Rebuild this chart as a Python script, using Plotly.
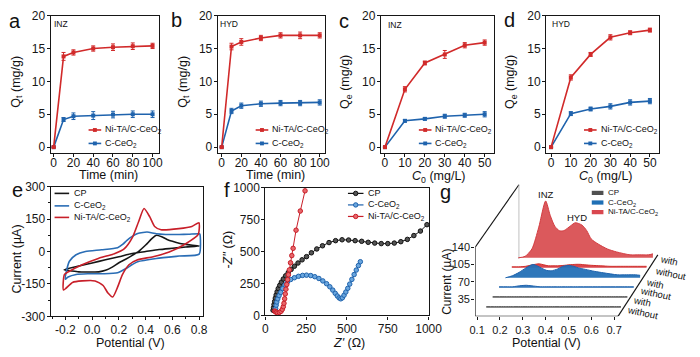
import plotly.graph_objects as go

W, H = 700, 357
FONT = "Liberation Sans, Arial, Helvetica, sans-serif"
RED = "#d12a2a"
BLUE = "#1f63ad"
BLACK = "#161616"


def fx(p):
    return p / W


def fy(p):
    return 1 - p / H


# ---------------- data: panels a-d ----------------
time_min = [0, 10, 20, 40, 60, 80, 100]
c0_mgL = [0, 10, 20, 30, 40, 50]
series_names = ["Ni-TA/C-CeO<sub>2</sub>", "C-CeO<sub>2</sub>"]

a_nita = [0, 13.8, 14.4, 15.0, 15.2, 15.35, 15.4]
a_nita_err = [0, 0.6, 0.4, 0.4, 0.5, 0.5, 0.4]
a_cceo2 = [0, 4.2, 4.7, 4.8, 4.95, 5.0, 5.0]
a_cceo2_err = [0, 0.3, 0.5, 0.6, 0.5, 0.5, 0.5]

b_nita = [0, 15.3, 16.0, 16.6, 17.0, 17.0, 17.0]
b_nita_err = [0, 0.5, 0.5, 0.4, 0.4, 0.5, 0.4]
b_cceo2 = [0, 5.5, 6.3, 6.6, 6.7, 6.7, 6.8]
b_cceo2_err = [0, 0.4, 0.4, 0.4, 0.4, 0.4, 0.4]

c_nita = [0, 8.8, 12.8, 14.1, 15.5, 15.9]
c_nita_err = [0, 0.4, 0.3, 0.6, 0.4, 0.4]
c_cceo2 = [0, 4.0, 4.3, 4.7, 4.85, 5.0]
c_cceo2_err = [0, 0.2, 0.2, 0.3, 0.3, 0.4]

d_nita = [0, 10.6, 14.1, 16.7, 17.4, 17.8]
d_nita_err = [0, 0.4, 0.3, 0.4, 0.3, 0.3]
d_cceo2 = [0, 5.1, 5.8, 6.2, 6.8, 7.0]
d_cceo2_err = [0, 0.3, 0.3, 0.4, 0.4, 0.4]

q_ticks = [0, 5, 10, 15, 20]
time_ticks = [0, 20, 40, 60, 80, 100]
c0_ticks = [0, 10, 20, 30, 40, 50]

# ---------------- data: panel e (CV loops) ----------------
e_cp_pot = [-0.21, -0.15, -0.10, -0.05, 0.00, 0.05, 0.10, 0.15, 0.20, 0.25, 0.30, 0.35,
            0.40, 0.45, 0.48, 0.52, 0.56, 0.60, 0.65, 0.70, 0.75, 0.80,
            0.70, 0.60, 0.50, 0.40, 0.30, 0.20, 0.10, 0.00, -0.10, -0.21]
e_cp_cur = [-84, -90, -94, -95, -95, -94, -87, -72, -52, -36, -18, 2,
            30, 62, 75, 68, 56, 47, 38, 33, 29, 26,
            21, 15, 9, 0, -9, -24, -38, -53, -67, -84]

e_cc_pot = [-0.20, -0.19, -0.17, -0.12, -0.05, 0.07, 0.19, 0.23, 0.26, 0.30, 0.34, 0.38,
            0.41, 0.45, 0.48, 0.55, 0.65, 0.72, 0.80, 0.805,
            0.80, 0.65, 0.48, 0.34, 0.30, 0.26, 0.19, 0.09, -0.03, -0.12, -0.18, -0.20]
e_cc_cur = [-128, -85, -45, -15, 0, 8, 18, 34, 52, 70, 83, 88,
            90, 86, 82, 79, 79, 80, 82, 80,
            -12, -21, -32, -47, -60, -76, -98, -103, -103, -106, -118, -128]

e_ni_pot = [-0.214, -0.207, -0.17, -0.075, 0.046, 0.166, 0.239, 0.30, 0.347, 0.388, 0.431, 0.467,
            0.515, 0.648, 0.745, 0.798,
            0.793, 0.697, 0.576, 0.456, 0.335, 0.275, 0.227, 0.19, 0.154, 0.118, 0.082, 0.022,
            -0.075, -0.147, -0.214]
e_ni_cur = [-178, -106, -91, -61, -32, -10, 12, 64, 138, 199, 160, 116,
            101, 106, 116, 133,
            79, 35, -2, -24, -39, -61, -106, -165, -210, -192, -157, -136,
            -136, -143, -178]

e_x_ticks = [-0.2, 0.0, 0.2, 0.4, 0.6, 0.8]
e_x_text = ["-0.2", "0.0", "0.2", "0.4", "0.6", "0.8"]
e_y_ticks = [-300, -150, 0, 150, 300]
e_y_text = ["-300", "-150", "0", "150", "300"]

# ---------------- data: panel f (Nyquist) ----------------
f_cp_re = [47, 50, 53, 57, 61, 66, 72, 79, 88, 98, 110, 124, 140, 158, 178, 200, 225, 252,
           282, 315, 350, 390, 430, 470, 510, 550, 590, 630, 670, 710, 750, 790, 830, 870,
           910, 950, 990]
f_cp_im = [40, 60, 85, 110, 135, 160, 185, 210, 235, 260, 285, 310, 335, 360, 385, 410, 435, 460,
           490, 520, 545, 570, 585, 592, 590, 585, 580, 572, 566, 562, 562, 566, 577, 595,
           625, 660, 710]

f_cc_re = [60, 63, 66, 70, 76, 84, 94, 106, 120, 135, 155, 178, 203, 228, 252, 278, 303, 328,
           352, 375, 395, 413, 428, 441, 452, 462, 472, 482, 493, 505, 517, 530, 544, 557,
           570, 582]
f_cc_im = [35, 55, 80, 105, 130, 155, 180, 210, 238, 262, 281, 295, 306, 313, 315, 312, 303, 289,
           270, 248, 224, 198, 173, 152, 137, 130, 138, 158, 183, 212, 245, 282, 320, 355,
           390, 420]

f_ni_re = [57, 62, 68, 76, 86, 96, 104, 110, 114, 118, 122, 126, 131, 136, 141, 147, 154, 162,
           170, 188, 214, 243]
f_ni_im = [34, 28, 24, 20, 24, 32, 48, 68, 95, 130, 168, 205, 242, 280, 318, 356, 412, 468,
           525, 667, 817, 975]

f_ticks = [0, 250, 500, 750, 1000]

# ---------------- data: panel g (stacked DPV) ----------------
g_pot = [0.14, 0.17, 0.20, 0.23, 0.26, 0.28, 0.30, 0.32, 0.34, 0.37, 0.39, 0.42, 0.44, 0.46,
         0.49, 0.53, 0.57, 0.63, 0.67, 0.71, 0.73]
g_cp_without = [2, 2, 2, 2, 2, 2, 2, 2, 2, 2, 2, 2, 2, 2, 2, 2, 2, 2, 2, 2, 2]
g_cp_with = [2, 2, 2, 2, 2, 2, 2, 2, 2, 2, 2, 2, 2, 2, 2, 2, 2, 2, 2, 2, 2]
g_cc_without = [2, 2, 2, 4, 5, 4, 3, 2, 2, 2, 2, 2, 2, 2, 2, 2, 2, 2, 2, 2, 2]
g_cc_with = [0, 4, 11, 20, 27, 24, 19, 15, 14, 18, 23, 25, 23, 20, 17, 13, 10, 6, 6, 6, 5]
g_ni_without = [2, 2, 3, 6, 8, 6, 4, 4, 4, 5, 6, 7, 7, 6, 5, 4, 3, 3, 3, 3, 3]
g_ni_with = [0, 3, 18, 62, 115, 86, 64, 55, 55, 65, 71, 66, 55, 38, 28, 18, 12, 6, 6, 6, 8]
g_layer_names = ["without", "with", "without", "with", "without", "with"]
g_x_ticks = [0.1, 0.2, 0.3, 0.4, 0.5, 0.6, 0.7]
g_x_text = ["0.1", "0.2", "0.3", "0.4", "0.5", "0.6", "0.7"]
g_y_ticks = [35, 70, 105, 140]

# waterfall styling (pseudo-3D offsets)
G_DX = 0.028
G_DY = 20.2
G_B0 = 17.5

fig = go.Figure()
layout_axes = {}
shapes = []
annotations = []


def ids(i):
    return ("x" if i == 1 else f"x{i}"), ("y" if i == 1 else f"y{i}")


def add_axes(i, l, r, t, b, xr, yr, xtv, xtt, ytv, ytt, box=True, xminor=None, yminor=None, tfs=12,
             xstand=0, ystand=0):
    xid, yid = ids(i)
    xname = "xaxis" if i == 1 else f"xaxis{i}"
    yname = "yaxis" if i == 1 else f"yaxis{i}"
    common = dict(showgrid=False, zeroline=False, ticks="outside", ticklen=3, tickwidth=1.1,
                  tickcolor=BLACK, linecolor=BLACK, linewidth=1.2, showline=box, mirror=box,
                  tickfont=dict(size=tfs, family=FONT, color=BLACK), tickmode="array")
    layout_axes[xname] = dict(common, domain=[fx(l), fx(r)], range=xr, anchor=yid,
                              tickvals=xtv, ticktext=xtt, ticklabelstandoff=xstand)
    layout_axes[yname] = dict(common, domain=[fy(b), fy(t)], range=yr, anchor=xid,
                              tickvals=ytv, ticktext=ytt, ticklabelstandoff=ystand)
    if xminor:
        layout_axes[xname]["minor"] = dict(ticks="outside", ticklen=2, tickwidth=1, tickcolor=BLACK,
                                           dtick=xminor, tick0=0)
    if yminor:
        layout_axes[yname]["minor"] = dict(ticks="outside", ticklen=2, tickwidth=1, tickcolor=BLACK,
                                           dtick=yminor, tick0=0)


def text(x, y, s, size=12, angle=0, xanchor="center", yanchor="middle", color="#111111"):
    annotations.append(dict(x=fx(x), y=fy(y), xref="paper", yref="paper", text=s, showarrow=False,
                            font=dict(size=size, family=FONT, color=color), textangle=angle,
                            xanchor=xanchor, yanchor=yanchor))


def pline(x0, y0, x1, y1, color, width=1.6):
    shapes.append(dict(type="line", xref="paper", yref="paper", x0=fx(x0), y0=fy(y0), x1=fx(x1),
                       y1=fy(y1), line=dict(color=color, width=width)))


def prect(x0, y0, x1, y1, color):
    shapes.append(dict(type="rect", xref="paper", yref="paper", x0=fx(x0), y0=fy(y0), x1=fx(x1),
                       y1=fy(y1), line=dict(width=0), fillcolor=color))


def pcircle(cx, cy, r, fill, edge):
    shapes.append(dict(type="circle", xref="paper", yref="paper", x0=fx(cx - r), y0=fy(cy + r),
                       x1=fx(cx + r), y1=fy(cy - r), line=dict(color=edge, width=1), fillcolor=fill))


# ---------------- panels a-d ----------------
kin_panels = [
    (1, 46, 158, [-3, 107], time_min, a_nita, a_nita_err, a_cceo2, a_cceo2_err, time_ticks),
    (2, 218, 328, [-4, 105], time_min, b_nita, b_nita_err, b_cceo2, b_cceo2_err, time_ticks),
    (3, 386, 502, [-2, 54.5], c0_mgL, c_nita, c_nita_err, c_cceo2, c_cceo2_err, c0_ticks),
    (4, 556, 672, [-2.5, 54.5], c0_mgL, d_nita, d_nita_err, d_cceo2, d_cceo2_err, c0_ticks),
]
for (i, l, r, xr, xs, yr_, er_, yb, eb, xt) in kin_panels:
    add_axes(i, l, r, 9, 152, xr, [-0.9, 20], xt, [str(v) for v in xt], q_ticks, [str(v) for v in q_ticks],
             xstand=-5, ystand=-1)
    xid, yid = ids(i)
    for ys, es, col in ((yb, eb, BLUE), (yr_, er_, RED)):
        fig.add_trace(go.Scatter(
            x=xs, y=ys, xaxis=xid, yaxis=yid, mode="lines+markers", showlegend=False,
            line=dict(color=col, width=1.6), marker=dict(symbol="square", size=4, color=col),
            error_y=dict(type="data", array=es, color=col, thickness=1, width=2), cliponaxis=False))
    # legend
    lx0 = l + 39
    for yy, col, name in ((128, RED, series_names[0]), (142, BLUE, series_names[1])):
        pline(lx0, yy, lx0 + 13, yy, col)
        prect(lx0 + 4.5, yy - 2, lx0 + 8.5, yy + 2, col)
        text(lx0 + 15, yy, name, size=9, xanchor="left")

text(11, 78, "Q<sub>t</sub> (mg/g)", 12.5, -90)
text(183, 78, "Q<sub>t</sub> (mg/g)", 12.5, -90)
text(350, 78, "Q<sub>e</sub> (mg/g)", 12.5, -90)
text(520, 78, "Q<sub>e</sub> (mg/g)", 12.5, -90)
text(106, 175, "Time (min)", 12.5)
text(277, 175, "Time (min)", 12.5)
text(446, 176.5, "<i>C</i><sub>0</sub> (mg/L)", 12.5)
text(618, 176.5, "<i>C</i><sub>0</sub> (mg/L)", 12.5)
text(57, 18, "INZ", 8.5)
text(230, 18, "HYD", 8.5)
text(400, 19, "INZ", 8.5)
text(571, 18, "HYD", 8.5)

# ---------------- panel e ----------------
add_axes(5, 46, 203, 187, 322, [-0.31, 0.83], [-300, 300], e_x_ticks, e_x_text, e_y_ticks, e_y_text,
         xminor=0.1, yminor=75, xstand=-1, ystand=-1)
for xs, ys, col in ((e_cp_pot, e_cp_cur, BLACK), (e_cc_pot, e_cc_cur, "#2a6db5"), (e_ni_pot, e_ni_cur, "#c81f29")):
    fig.add_trace(go.Scatter(x=xs, y=ys, xaxis="x5", yaxis="y5", mode="lines", showlegend=False,
                             line=dict(color=col, width=1.6, shape="spline", smoothing=0.6)))
for yy, col, name in ((194, BLACK, "CP"), (207, "#2a6db5", "C-CeO<sub>2</sub>"), (219, "#c81f29", "Ni-TA/C-CeO<sub>2</sub>")):
    pline(50, yy, 65, yy, col)
    text(68, yy, name, size=9, xanchor="left")
text(11, 262, "Current (µA)", 12.5, -90)
text(128, 350, "Potential (V)", 12.5)

# ---------------- panel f ----------------
add_axes(6, 267, 435, 188, 321, [0, 1000], [0, 1000], f_ticks, [str(v) for v in f_ticks],
         f_ticks, [str(v) for v in f_ticks], xstand=-1, ystand=-1)
f_styles = [(f_cp_re, f_cp_im, "#111111", "#555555"),
            (f_cc_re, f_cc_im, "#1f63ad", "#6aa6de"),
            (f_ni_re, f_ni_im, "#c81f29", "#e8676b")]
for xs, ys, edge, fill in f_styles:
    fig.add_trace(go.Scatter(x=xs, y=ys, xaxis="x6", yaxis="y6", mode="lines+markers", showlegend=False,
                             line=dict(color=edge, width=1),
                             marker=dict(symbol="circle", size=4.5, color=fill, line=dict(color=edge, width=1)),
                             cliponaxis=False))
for yy, (edge, fill), name in ((194, ("#111111", "#555555"), "CP"), (206, ("#1f63ad", "#6aa6de"), "C-CeO<sub>2</sub>"),
                               (218, ("#c81f29", "#e8676b"), "Ni-TA/C-CeO<sub>2</sub>")):
    pline(352, yy, 368, yy, edge, 1.2)
    pcircle(360, yy, 2.3, fill, edge)
    text(371, yy, name, size=9, xanchor="left")
text(229, 252, "-<i>Z''</i> (Ω)", 12.5, -90)
text(353, 350, "<i>Z'</i> (Ω)", 12.5)

# ---------------- panel g ----------------
g_yr = [0, (322 - 183) * 140 / 72]
g_xr = [0.1 - 2 / 235, 0.1 + (700 - 485) / 235]
add_axes(7, 483, 700, 183, 322, g_xr, g_yr, g_x_ticks, g_x_text, g_y_ticks, [str(v) for v in g_y_ticks],
         box=False, tfs=11, xstand=0, ystand=-1)

g_layers = [
    (g_cp_without, "rgba(110,110,110,0.9)", "#444444"),
    (g_cp_with, "rgba(110,110,110,0.9)", "#444444"),
    (g_cc_without, "rgba(40,110,180,0.95)", "#1f63ad"),
    (g_cc_with, "rgba(35,112,182,0.95)", "#1f63ad"),
    (g_ni_without, "rgba(215,60,66,0.95)", "#d0312d"),
    (g_ni_with, "rgba(216,76,80,0.93)", "#d23c40"),
]
for k in reversed(range(6)):
    cur, fillc, linec = g_layers[k]
    xs = [p + k * G_DX for p in g_pot]
    base = G_B0 + k * G_DY
    fig.add_trace(go.Scatter(x=xs, y=[base for _ in xs], xaxis="x7", yaxis="y7", mode="lines",
                             line=dict(width=0, color=linec), showlegend=False, hoverinfo="skip"))
    fig.add_trace(go.Scatter(x=xs, y=[c + base for c in cur], xaxis="x7", yaxis="y7", mode="lines",
                             line=dict(width=1, color=linec, shape="spline", smoothing=0.7),
                             fill="tonexty", fillcolor=fillc, showlegend=False))


def gx(p):
    return (p - 485) / 235 + 0.1


def gy(p):
    return (322 - p) * 140 / 72


def gline(x0, y0, x1, y1, color=BLACK, width=1.1):
    shapes.append(dict(type="line", xref="x7", yref="y7", x0=gx(x0), y0=gy(y0), x1=gx(x1), y1=gy(y1),
                       line=dict(color=color, width=width), layer="below"))


gline(483, 322, 483, 250)
gline(483, 322, 630, 322)
gline(483, 250, 528, 185)
gline(630, 322, 671, 258)
gline(528, 185, 528, 262, "#b0b0b0", 0.8)

for yy, col, name in ((193.5, "#505050", "CP"), (203.5, "#1f6fb5", "C-CeO<sub>2</sub>"), (213.5, "#d9474f", "Ni-TA/C-CeO<sub>2</sub>")):
    prect(603, yy - 2.2, 615, yy + 2.2, col)
    text(618, yy, name, size=8, xanchor="left")

text(556, 195, "INZ", 9.5)
text(588, 219, "HYD", 9.5)
label_pos = [(655, 318), (655, 307), (669, 298), (668, 288), (684, 277), (683, 264)]
for (lx, ly), name in zip(label_pos, g_layer_names):
    text(lx, ly, name, 9.5, 12)
text(454, 286, "Current (µA)", 12, -90)
text(556, 350, "Potential (V)", 12.5)

# panel letters
for s, x, y in (("a", 9, 15), ("b", 176, 14), ("c", 348, 15), ("d", 518, 14),
                ("e", 12, 190), ("f", 227, 190), ("g", 452, 193)):
    text(x, y, s, 20)

fig.update_layout(width=W, height=H, margin=dict(l=0, r=0, t=0, b=0),
                  paper_bgcolor="white", plot_bgcolor="rgba(0,0,0,0)",
                  font=dict(family=FONT, color=BLACK), showlegend=False,
                  shapes=shapes, annotations=annotations, **layout_axes)

fig.write_html("out.html", config={"displayModeBar": False},
               post_script="document.body.style.margin='0px';document.body.style.padding='0px';")
